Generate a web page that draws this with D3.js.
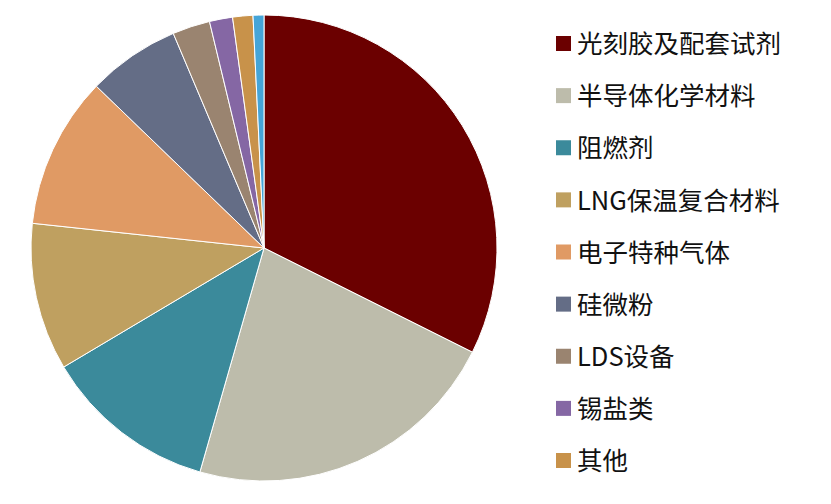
<!DOCTYPE html><html><head><meta charset="utf-8"><script src="https://cdn.jsdelivr.net/npm/d3@7"></script>
<style>body{margin:0;background:#fff}</style></head><body><svg id="c" width="831" height="504"></svg>
<script>
const categories=["光刻胶及配套试剂","半导体化学材料","阻燃剂","LNG保温复合材料","电子特种气体","硅微粉","LDS设备","锡盐类","其他",""];
const values=[32.3,22.0,12.0,10.2,10.5,6.4,2.6,1.6,1.4,0.75];
const colors=["#6B0000","#BDBCAB","#3B8A9B","#BFA060","#E09A64","#646D86","#9A8470","#8567A4","#C8924A","#45A5D8"];
const svg=d3.select("#c");
const g=svg.append("g").attr("transform","translate(264,248)");
const pie=d3.pie().sort(null).value(d=>d)(values);
const arc=d3.arc().innerRadius(0).outerRadius(233);
g.selectAll("path").data(pie).join("path").attr("d",arc).attr("fill",(d,i)=>colors[i]).attr("stroke","#fff").attr("stroke-width",1);
const lg=svg.append("g");
const items=categories.slice(0,9);
const y=d3.scalePoint().domain(items).range([44,461]);
items.forEach((c,i)=>{
 lg.append("rect").attr("x",556).attr("y",y(c)-8).attr("width",15).attr("height",15).attr("fill",colors[i]);
 lg.append("text").attr("x",577).attr("y",y(c)).attr("dy","0.36em").attr("font-family","Noto Sans CJK SC, Liberation Sans, sans-serif").attr("font-size",25.5).attr("fill","#111").text(c);
});
</script></body></html>
